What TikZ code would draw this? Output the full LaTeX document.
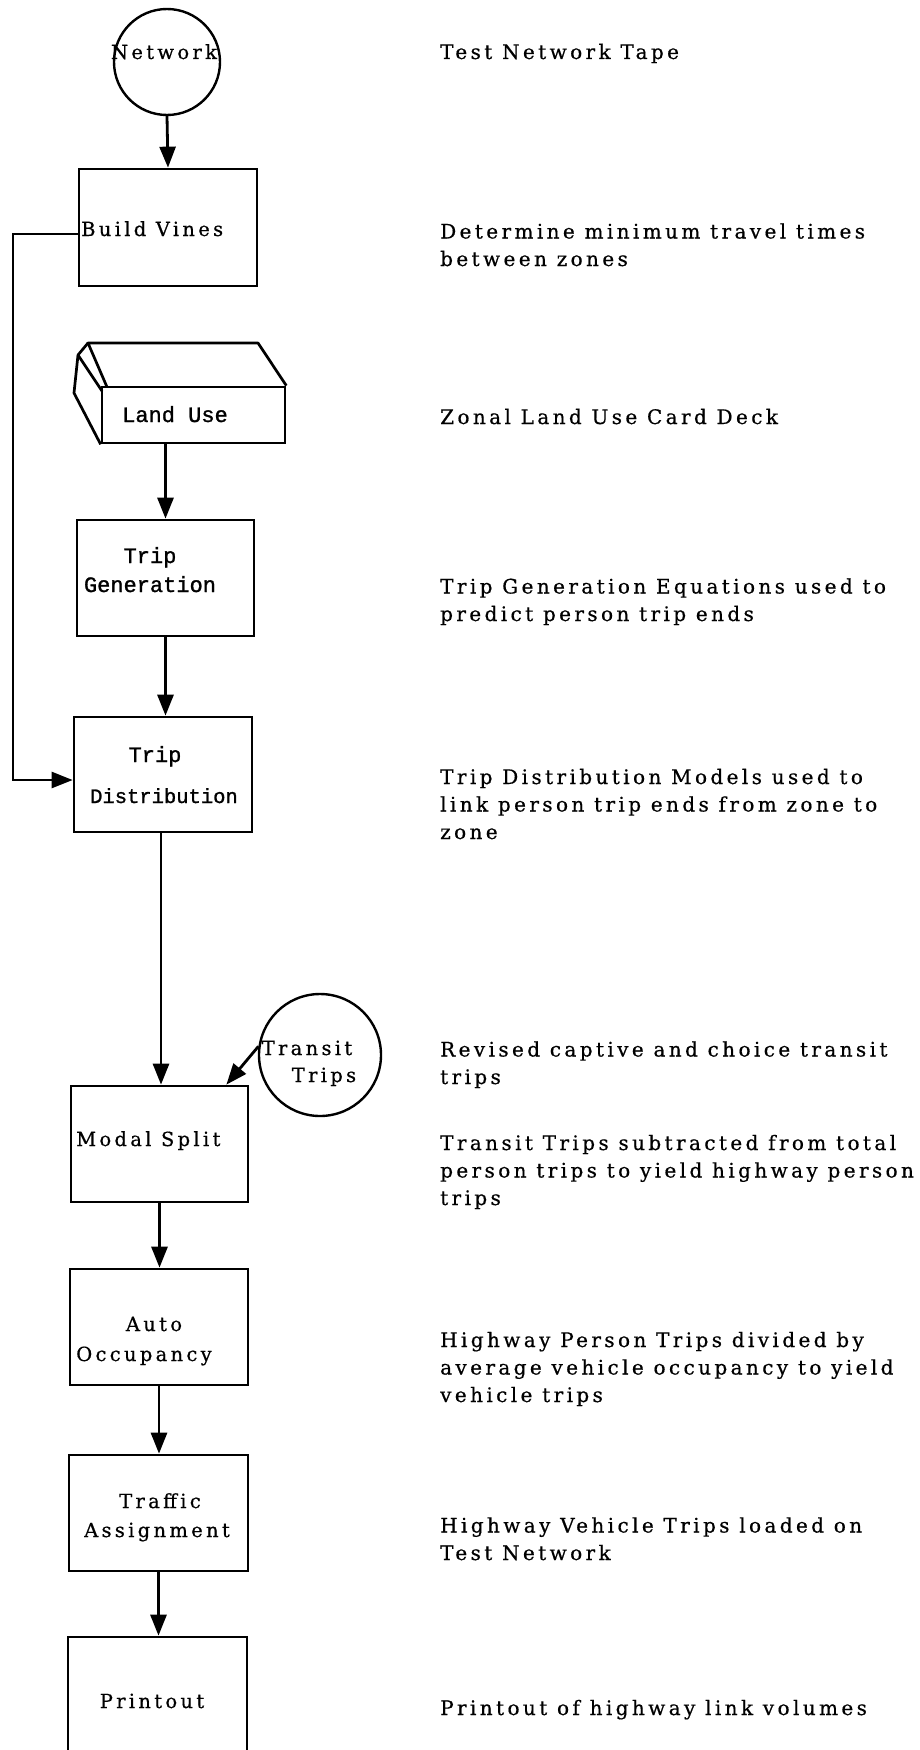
\documentclass[tikz,border=0pt]{standalone}
\usepackage{fontspec}
\usetikzlibrary{arrows.meta}
\newfontfamily\typ{DejaVu Serif}[LetterSpace=17,FakeBold=0.6]
\newfontfamily\cour{Liberation Mono}[FakeBold=1.2]
\begin{document}
\begin{tikzpicture}[x=1pt,y=-1pt,
  boxst/.style={draw, line width=2.7pt, rectangle, inner sep=0pt},
  circst/.style={draw, line width=2.4pt, circle, inner sep=0pt},
  arr/.style={line width=2.8pt, -{Triangle[length=21pt,width=16pt]}},
  lbl/.style={anchor=base, inner sep=0pt, font=\typ\fontsize{19.5}{27.5}\selectfont},
  clbl/.style={anchor=base, inner sep=0pt, font=\cour\fontsize{22}{27.5}\selectfont},
  desc/.style={anchor=base west, inner sep=0pt, align=left, font=\typ\fontsize{20}{27.5}\selectfont}]
\useasboundingbox (0,0) rectangle (920,1750);
\clip (0,0) rectangle (920,1750);
\fill[white] (0,0) rectangle (920,1750);

% left column shapes
\node[circst, minimum size=106pt] (net) at (167,62) {};
\node[boxst, minimum width=178pt, minimum height=117pt] (bv) at (168,227.5) {};
\node[boxst, minimum width=183pt, minimum height=56pt] (lu) at (193.5,415) {};
\node[boxst, minimum width=177pt, minimum height=116pt] (tg) at (165.5,578) {};
\node[boxst, minimum width=178pt, minimum height=115pt] (td) at (163,774.5) {};
\node[circst, minimum size=122pt] (tt) at (320,1055) {};
\node[boxst, minimum width=177pt, minimum height=116pt] (ms) at (159.5,1144) {};
\node[boxst, minimum width=178pt, minimum height=116pt] (ao) at (159,1327) {};
\node[boxst, minimum width=179pt, minimum height=116pt] (ta) at (158.5,1513) {};
\node[boxst, minimum width=179pt, minimum height=120pt] (po) at (157.5,1697) {};

% card deck top and side faces
\draw[line width=2.7pt, line join=round] (lu.north east) -- (258,343) -- (88,343) -- (107,387);
\draw[line width=2.7pt, line join=round] (88,343) -- (78,355) -- (102,391);
\draw[line width=2.7pt, line join=round] (78,355) -- (74,393) -- (lu.south west);

% box texts
\node[lbl] (net-t) at (164,59) {Network};
\node[lbl, anchor=base west] (bv-t) at (81,236) {Build Vines};
\node[clbl] (lu-t) at (175,422) {Land Use};
\node[clbl] (tg-t1) at (150,563) {Trip};
\node[clbl] (tg-t2) at (150,592) {Generation};
\node[clbl] (td-t1) at (155,762) {Trip};
\node[clbl, font=\cour\fontsize{20.5}{24}\selectfont] (td-t2) at (164,803) {Distribution};
\node[lbl, anchor=base west] (ms-t) at (76,1146) {Modal Split};
\node[lbl] (tt-t1) at (307,1055) {Transit};
\node[lbl] (tt-t2) at (324,1082) {Trips};
\node[lbl] (ao-t1) at (154,1331) {Auto};
\node[lbl] (ao-t2) at (144,1361) {Occupancy};
\node[lbl] (ta-t1) at (160,1508) {Traffic};
\node[lbl] (ta-t2) at (157,1537) {Assignment};
\node[lbl] (po-t) at (152,1708) {Printout};

% connectors
\draw[arr] (net.south) -- (bv.north);
\draw[arr] (lu.south -| tg.north) -- (tg.north);
\draw[arr] (tg.south) -- (tg.south |- td.north);
\draw[arr] ([xshift=-2pt]td.south) -- ([xshift=-2pt]td.south |- ms.north);
\draw[arr] (ms.south) -- (ms.south |- ao.north);
\draw[arr] (ao.south) -- (ao.south |- ta.north);
\draw[arr] (ta.south) -- (ta.south |- po.north);
\coordinate (fb1) at (13,234);
\coordinate (fb2) at (13,780);
\draw[arr, line width=2.5pt] ([yshift=-6.5pt]bv.west) -- (fb1) -- (fb2) -- ([yshift=-5.5pt]td.west);
\draw[arr] (tt.172) -- ([xshift=-23pt]ms.north east);

% descriptions (node base = baseline of last line)
\node[desc] (d1) at (440,59) {Test Network Tape};
\node[desc] (d2) at (440,266) {Determine minimum travel times\\between zones};
\node[desc] (d3) at (440,424) {Zonal Land Use Card Deck};
\node[desc] (d4) at (440,621) {Trip Generation Equations used to\\predict person trip ends};
\node[desc] (d5) at (440,839) {Trip Distribution Models used to\\link person trip ends from zone to\\zone};
\node[desc] (d6) at (440,1084) {Revised captive and choice transit\\trips};
\node[desc] (d7) at (440,1205) {Transit Trips subtracted from total\\person trips to yield highway person\\trips};
\node[desc] (d8) at (440,1402) {Highway Person Trips divided by\\average vehicle occupancy to yield\\vehicle trips};
\node[desc] (d9) at (440,1560) {Highway Vehicle Trips loaded on\\Test Network};
\node[desc] (d10) at (440,1715) {Printout of highway link volumes};
\end{tikzpicture}
\end{document}
